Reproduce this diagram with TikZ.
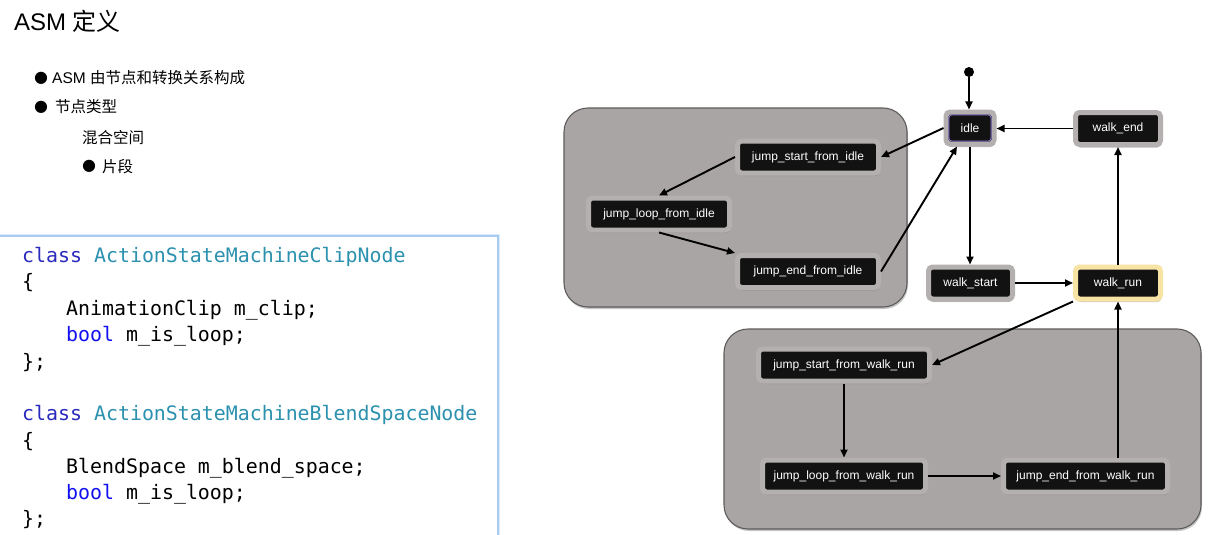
\documentclass[tikz,border=0pt]{standalone}
\usepackage{fontspec}
\setmainfont{Liberation Sans}
\newfontfamily\cjk{Noto Sans CJK SC}
\newfontfamily\dejavu{DejaVu Sans}
\newfontfamily\codefont{DejaVu Sans Mono}
\usetikzlibrary{arrows.meta,shadows}
\definecolor{grpfill}{HTML}{A9A5A4}
\definecolor{grpline}{HTML}{5E5C5B}
\definecolor{halo}{HTML}{B3B0AF}
\definecolor{haloyellow}{HTML}{F7E4A4}
\definecolor{idlepurple}{HTML}{8A78C8}
\definecolor{codeline}{HTML}{A9CBF2}
\definecolor{codeglow}{HTML}{DDEAFA}
\definecolor{kwclass}{HTML}{2A2ABF}
\definecolor{kwbool}{HTML}{1010F0}
\definecolor{tyname}{HTML}{2B91AF}
\begin{document}
\begin{tikzpicture}[x=1pt,y=-1pt,
  st/.style={rectangle, rounded corners=4pt, fill=black!93, text=white, draw=halo,
    line width=5pt, minimum height=32pt, inner sep=0pt,
    font=\fontsize{12}{14}\selectfont,
    drop shadow={shadow xshift=0.8pt, shadow yshift=-3pt, opacity=0.5}},
  grp/.style={rounded corners=24pt, fill=grpfill, draw=grpline, line width=1.1pt,
    drop shadow={shadow xshift=1pt, shadow yshift=-2pt, opacity=0.45}},
  tr/.style={draw=black, line width=1.9pt, -{Triangle[length=8pt,width=7pt]}},
  txt/.style={anchor=base west, inner sep=0pt, font=\fontsize{15.5}{18}\selectfont},
  bul/.style={inner sep=0pt, font=\dejavu\fontsize{16}{18}\selectfont},
  code/.style={anchor=base west, inner sep=0pt, font=\codefont\fontsize{19.9}{24}\selectfont}
]
\useasboundingbox (0,0) rectangle (1211,535);
\fill[white] (0,0) rectangle (1211,535);

% ---- title and bullets
\node[anchor=base west, inner sep=0pt, font=\fontsize{24}{28}\selectfont] (title) at (14,31) {ASM {\cjk 定义}};
\node[bul] (d1) at (41,78) {●};
\node[txt] (b1) at (52,83.5) {ASM {\cjk 由节点和转换关系构成}};
\node[bul] (d2) at (41,107) {●};
\node[txt] (b2) at (55,113) {\cjk 节点类型};
\node[txt] (b3) at (82,143) {\cjk 混合空间};
\node[bul] (d4) at (89,166) {●};
\node[txt] (b4) at (102,172) {\cjk 片段};

% ---- code box
\draw[codeglow, line width=4pt] (-10,236) -| (498,545);
\filldraw[fill=white, draw=codeline, line width=1.3pt] (-10,236) rectangle (498,545);
\node[code] (c1) at (22,262) {{\color{kwclass}class} {\color{tyname}ActionStateMachineClipNode}};
\node[code] (c2) at (22,288) {\{};
\node[code] (c3) at (66,315) {AnimationClip m\_clip;};
\node[code] (c4) at (66,341) {{\color{kwbool}bool} m\_is\_loop;};
\node[code] (c5) at (22,368) {\};};
\node[code] (c6) at (22,420.5) {{\color{kwclass}class} {\color{tyname}ActionStateMachineBlendSpaceNode}};
\node[code] (c7) at (22,447) {\{};
\node[code] (c8) at (66,473) {BlendSpace m\_blend\_space;};
\node[code] (c9) at (66,499) {{\color{kwbool}bool} m\_is\_loop;};
\node[code] (c10) at (22,525) {\};};

% ---- groups
\draw[grp] (564,108) rectangle (907,307);
\draw[grp] (724,329) rectangle (1201,529);

% ---- states
\node[circle, fill=black, minimum size=10pt, inner sep=0pt] (start) at (969,72) {};
\node[st, minimum width=48pt] (idle) at (970,128) {idle};
\draw[idlepurple, line width=0.9pt, rounded corners=3pt]
  ([shift={(5.4pt,-5.4pt)}]idle.north west) rectangle ([shift={(-5.4pt,5.4pt)}]idle.south east);
\node[st, minimum width=85pt] (we) at (1118,128.5) {walk\_end};
\node[st, minimum width=84pt] (ws) at (970.5,283) {walk\_start};
\node[st, minimum width=85pt, draw=haloyellow] (wr) at (1118,283) {walk\_run};
\node[st, minimum width=141pt] (jsi) at (808,157) {jump\_start\_from\_idle};
\node[st, minimum width=141pt] (jli) at (659,214) {jump\_loop\_from\_idle};
\node[st, minimum width=141pt] (jei) at (808,271.5) {jump\_end\_from\_idle};
\node[st, minimum width=171pt] (jswr) at (844,365) {jump\_start\_from\_walk\_run};
\node[st, minimum width=163pt] (jlwr) at (844,476) {jump\_loop\_from\_walk\_run};
\node[st, minimum width=164pt] (jewr) at (1085.5,476) {jump\_end\_from\_walk\_run};

% ---- transitions
\draw[tr] (start) -- (start |- idle.north);
\draw[tr] (idle.south) -- (idle.south |- ws.north);
\draw[tr] (ws.east) -- (wr.west);
\draw[tr] (wr.north) -- (we.south);
\draw[tr] (we.west) -- (we.west -| idle.east);
\draw[tr] (idle.west) -- (jsi.east);
\draw[tr] (jsi.west) -- (jli.north);
\draw[tr] (jli.south) -- (jei.north west);
\draw[tr] (jei.east) -- ([xshift=-13pt]idle.south);
\draw[tr] (wr.south west) -- (jswr.east);
\draw[tr] (jswr.south) -- (jswr.south |- jlwr.north);
\draw[tr] (jlwr.east) -- (jewr.west);
\draw[tr] (jewr.north -| wr.south) -- (wr.south);
\end{tikzpicture}
\end{document}
